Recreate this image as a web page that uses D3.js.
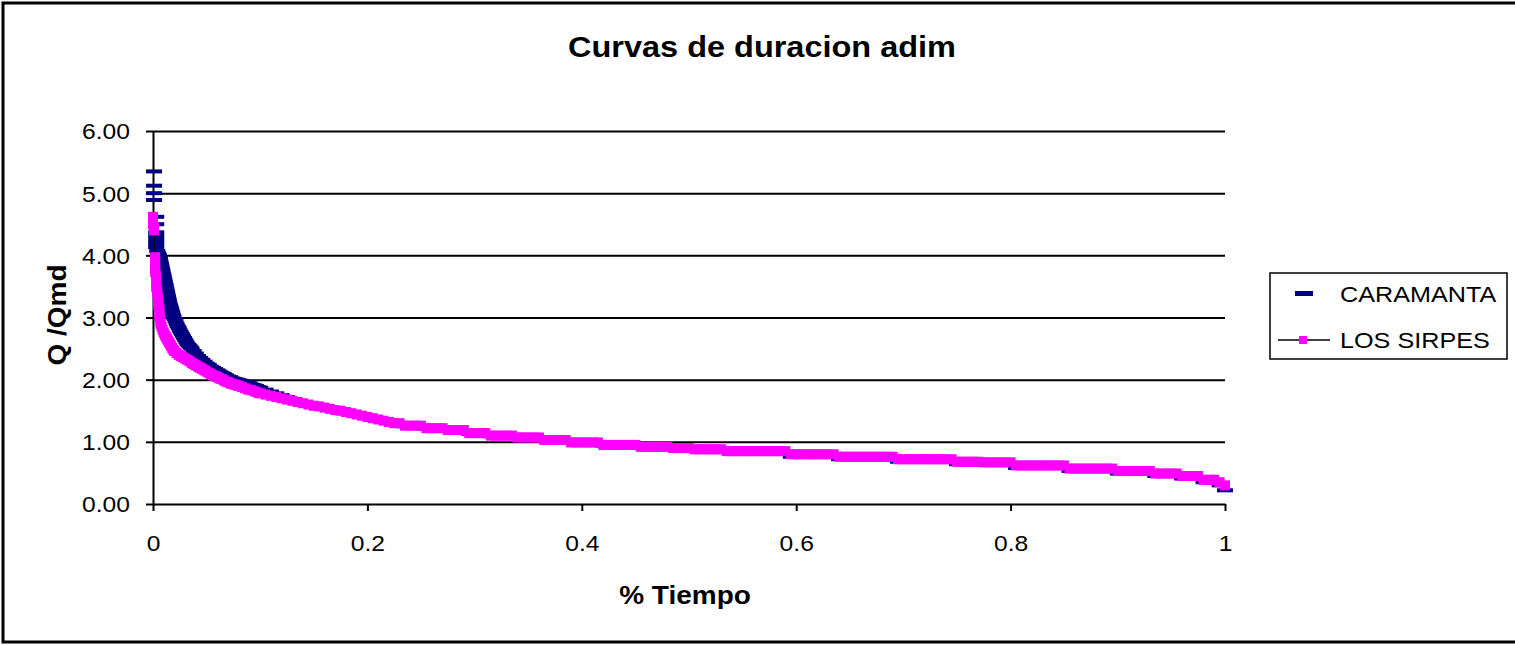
<!DOCTYPE html>
<html>
<head>
<meta charset="utf-8">
<script src="https://cdn.jsdelivr.net/npm/d3@7"></script>
<style>
  body { margin: 0; background: #fff; }
  svg { display: block; }
  text { font-family: "Liberation Sans", Arial, sans-serif; fill: #000; }
</style>
</head>
<body>
<svg id="chart" width="1515" height="645"></svg>
<script>
// textos
var titulo = "Curvas de duracion adim";
var tituloX = "% Tiempo";
var tituloY = "Q /Qmd";
var nombres = ["CARAMANTA", "LOS SIRPES"];
var ticksY = [0, 1, 2, 3, 4, 5, 6];
var ticksX = [0, 0.2, 0.4, 0.6, 0.8, 1];

// tramo inicial (curva empinada), pares [tiempo, Q/Qmd]
var caramantaInicio = [
  [0.001,5.35],[0.001,5.12],[0.001,5.00],[0.001,4.89],[0.003,4.62],[0.003,4.50],[0.003,4.37],
  [0.003,4.32],[0.003,4.27],[0.003,4.22],[0.003,4.17],[0.003,4.13],[0.004,4.07],[0.0045,4.04],
  [0.005,4.02],[0.0055,4.00],[0.006,3.97],[0.0065,3.94],[0.007,3.90],[0.0075,3.86],[0.008,3.82],
  [0.0085,3.78],[0.009,3.74],[0.0095,3.70],[0.010,3.66],[0.0105,3.62],[0.011,3.58],[0.0115,3.54],
  [0.012,3.50],[0.0125,3.46],[0.013,3.42],[0.0135,3.38],[0.014,3.34],[0.0145,3.30],[0.015,3.26],
  [0.0155,3.22],[0.016,3.19],[0.0165,3.16],[0.017,3.13],[0.0175,3.10],[0.018,3.07],[0.0185,3.04],
  [0.019,3.02],[0.020,2.98],[0.021,2.94],[0.022,2.90],[0.023,2.86],[0.024,2.83],[0.025,2.79],
  [0.026,2.76],[0.027,2.73],[0.028,2.70],[0.029,2.67],[0.030,2.64],[0.031,2.61],[0.032,2.58],
  [0.033,2.56],[0.034,2.54],[0.035,2.52],[0.036,2.50],[0.038,2.46],[0.040,2.42],[0.042,2.38],
  [0.044,2.35],[0.046,2.32],[0.048,2.29],[0.050,2.26],[0.052,2.24],[0.054,2.21],[0.056,2.19],
  [0.058,2.17],[0.060,2.15],[0.062,2.13],[0.064,2.11],[0.066,2.09],[0.068,2.07],[0.070,2.05],
  [0.072,2.04],[0.074,2.02],[0.076,2.01],[0.078,2.00],[0.080,1.99],[0.082,1.98],[0.084,1.97],
  [0.086,1.96],[0.088,1.95],[0.090,1.94],[0.092,1.92],[0.094,1.91],[0.096,1.90],[0.098,1.88]
];
var sirpesInicio = [
  [0,4.62],[0,4.56],[0,4.50],[0.001,4.45],[0.001,4.40],[0.002,3.97],[0.002,3.91],[0.002,3.85],
  [0.002,3.79],[0.002,3.73],[0.003,3.67],[0.003,3.61],[0.003,3.55],[0.003,3.49],[0.004,3.43],
  [0.004,3.37],[0.005,3.31],[0.005,3.25],[0.005,3.19],[0.006,3.13],[0.006,3.07],[0.006,3.01],
  [0.007,2.95],[0.007,2.90],[0.008,2.85],[0.009,2.80],[0.010,2.76],[0.011,2.72],[0.012,2.69],
  [0.013,2.66],[0.014,2.63],[0.015,2.60],[0.016,2.57],[0.017,2.54],[0.018,2.51],[0.019,2.48],
  [0.020,2.46],[0.022,2.43],[0.024,2.40],[0.026,2.38],[0.028,2.36],[0.030,2.34],[0.032,2.32],
  [0.034,2.30],[0.036,2.27],[0.038,2.25],[0.040,2.23],[0.042,2.21],[0.044,2.19],[0.046,2.17],
  [0.048,2.15],[0.050,2.13],[0.052,2.11],[0.054,2.09],[0.056,2.07],[0.058,2.06],[0.060,2.04],
  [0.062,2.02],[0.064,2.01],[0.066,1.99],[0.068,1.97],[0.070,1.96],[0.072,1.94],[0.074,1.93],
  [0.076,1.92],[0.078,1.91],[0.080,1.90],[0.083,1.88],[0.086,1.86],[0.089,1.84],[0.092,1.83],
  [0.095,1.81],[0.098,1.79]
];

// tramo 0.10 .. 1.00, cada 0.005
var tiempoCola = d3.range(181).map(function (i) { return +(0.1 + i * 0.005).toFixed(3); });
var caramantaCola = [
  1.87,1.84,1.81,1.78,1.75,1.72,1.69,1.66,1.63,1.60,
  1.58,1.56,1.54,1.52,1.50,1.49,1.47,1.45,1.43,1.41,
  1.39,1.37,1.35,1.33,1.31,1.29,1.29,1.25,1.25,1.25,
  1.25,1.21,1.21,1.21,1.21,1.18,1.18,1.18,1.18,1.13,
  1.13,1.13,1.13,1.09,1.09,1.09,1.09,1.09,1.06,1.06,
  1.06,1.06,1.06,1.02,1.02,1.02,1.02,1.02,0.98,0.98,
  0.98,0.98,0.98,0.98,0.94,0.94,0.94,0.94,0.94,0.94,
  0.94,0.91,0.91,0.91,0.91,0.91,0.91,0.89,0.89,0.89,
  0.89,0.87,0.87,0.87,0.87,0.87,0.87,0.84,0.84,0.84,
  0.82,0.82,0.82,0.82,0.81,0.81,0.81,0.81,0.81,0.76,
  0.76,0.76,0.76,0.76,0.76,0.76,0.76,0.76,0.72,0.72,
  0.72,0.72,0.72,0.72,0.72,0.72,0.72,0.72,0.72,0.68,
  0.68,0.68,0.68,0.68,0.68,0.68,0.68,0.68,0.68,0.68,
  0.64,0.64,0.64,0.64,0.64,0.63,0.63,0.63,0.63,0.63,
  0.63,0.58,0.58,0.58,0.58,0.58,0.58,0.58,0.58,0.58,
  0.58,0.53,0.53,0.53,0.53,0.53,0.53,0.53,0.53,0.53,
  0.49,0.49,0.49,0.49,0.49,0.49,0.49,0.45,0.45,0.45,
  0.45,0.45,0.41,0.41,0.41,0.41,0.35,0.35,0.34,0.30,
  0.22
];
var sirpesCola = [
  1.78,1.76,1.74,1.72,1.70,1.68,1.66,1.64,1.62,1.60,
  1.58,1.57,1.55,1.53,1.51,1.50,1.48,1.46,1.44,1.42,
  1.40,1.38,1.36,1.34,1.32,1.30,1.30,1.26,1.26,1.26,
  1.26,1.22,1.22,1.22,1.22,1.19,1.19,1.19,1.19,1.14,
  1.14,1.14,1.14,1.10,1.10,1.10,1.10,1.10,1.07,1.07,
  1.07,1.07,1.07,1.03,1.03,1.03,1.03,1.03,0.99,0.99,
  0.99,0.99,0.99,0.99,0.95,0.95,0.95,0.95,0.95,0.95,
  0.95,0.92,0.92,0.92,0.92,0.92,0.92,0.90,0.90,0.90,
  0.90,0.88,0.88,0.88,0.88,0.88,0.88,0.85,0.85,0.85,
  0.85,0.85,0.85,0.85,0.85,0.85,0.85,0.85,0.85,0.80,
  0.80,0.80,0.80,0.80,0.80,0.80,0.80,0.80,0.76,0.76,
  0.76,0.76,0.76,0.76,0.76,0.76,0.76,0.76,0.76,0.72,
  0.72,0.72,0.72,0.72,0.72,0.72,0.72,0.72,0.72,0.72,
  0.68,0.68,0.68,0.68,0.68,0.67,0.67,0.67,0.67,0.67,
  0.67,0.62,0.62,0.62,0.62,0.62,0.62,0.62,0.62,0.62,
  0.62,0.57,0.57,0.57,0.57,0.57,0.57,0.57,0.57,0.57,
  0.53,0.53,0.53,0.53,0.53,0.53,0.53,0.49,0.49,0.49,
  0.49,0.49,0.45,0.45,0.45,0.45,0.39,0.39,0.39,0.35,
  0.30
];

var caramanta = caramantaInicio.concat(tiempoCola.map(function (t, i) { return [t, caramantaCola[i]]; }));
var sirpes = sirpesInicio.concat(tiempoCola.map(function (t, i) { return [t, sirpesCola[i]]; }));

var estirar = 1.12;   // el texto del original sale ancho

var svg = d3.select('#chart');

var x = d3.scaleLinear().domain([0, 1]).range([153, 1225]);
var y = d3.scaleLinear().domain([0, 6]).range([504, 131]);

// marco exterior
svg.append('rect')
    .attr('x', 3).attr('y', 3)
    .attr('width', 1540).attr('height', 639)
    .attr('fill', 'none').attr('stroke', '#000').attr('stroke-width', 3);

// titulo
svg.append('text')
    .attr('transform', 'translate(762,57) scale(' + estirar + ',1)')
    .attr('text-anchor', 'middle')
    .style('font-size', '29px').style('font-weight', 'bold')
    .text(titulo);

// rejilla
svg.append('g')
    .attr('transform', 'translate(153,0)')
    .call(d3.axisLeft(y).tickValues(ticksY.slice(1)).tickSize(-1072).tickFormat(''))
    .call(function (g) { g.select('.domain').remove(); })
    .selectAll('line').attr('stroke', '#000').attr('stroke-width', 2);

// eje Y
var gy = svg.append('g')
    .attr('transform', 'translate(153,0)')
    .call(d3.axisLeft(y).tickValues(ticksY).tickSize(7).tickSizeOuter(0).tickFormat(d3.format('.2f')));
gy.select('.domain').attr('stroke', '#000').attr('stroke-width', 2);
gy.selectAll('.tick line').attr('stroke', '#000').attr('stroke-width', 2);
gy.selectAll('.tick text')
    .attr('x', null).attr('dy', '0.36em')
    .attr('transform', 'translate(-23,0) scale(' + estirar + ',1)')
    .style('font-size', '22px').attr('font-family', null);

// eje X
var gx = svg.append('g')
    .attr('transform', 'translate(0,504)')
    .call(d3.axisBottom(x).tickValues(ticksX).tickSize(7).tickSizeOuter(0).tickFormat(d3.format('')));
gx.select('.domain').attr('stroke', '#000').attr('stroke-width', 2);
gx.selectAll('.tick line').attr('stroke', '#000').attr('stroke-width', 2);
gx.selectAll('.tick text')
    .attr('y', null).attr('dy', '0.36em')
    .attr('transform', 'translate(0,39) scale(' + estirar + ',1)')
    .style('font-size', '22px').attr('font-family', null);

// titulos de ejes
svg.append('text')
    .attr('transform', 'translate(685,604) scale(' + estirar + ',1)')
    .attr('text-anchor', 'middle')
    .style('font-size', '25px').style('font-weight', 'bold')
    .text(tituloX);
svg.append('text')
    .attr('transform', 'translate(66,315) rotate(-90) scale(' + estirar + ',1)')
    .attr('text-anchor', 'middle')
    .style('font-size', '25px').style('font-weight', 'bold')
    .text(tituloY);

// CARAMANTA: solo guiones
svg.append('g').selectAll('rect')
    .data(caramanta)
    .join('rect')
    .attr('x', function (d) { return x(d[0]) - 8; })
    .attr('y', function (d) { return y(d[1]) - 2; })
    .attr('width', 16).attr('height', 4)
    .attr('fill', '#000080');

// LOS SIRPES: linea negra + cuadrados
var linea = d3.line()
    .x(function (d) { return x(d[0]); })
    .y(function (d) { return y(d[1]); });
svg.append('path')
    .datum(sirpes)
    .attr('d', linea)
    .attr('fill', 'none').attr('stroke', '#000').attr('stroke-width', 1);
svg.append('g').selectAll('rect')
    .data(sirpes)
    .join('rect')
    .attr('x', function (d) { return x(d[0]) - 5; })
    .attr('y', function (d) { return y(d[1]) - 5; })
    .attr('width', 10).attr('height', 10)
    .attr('fill', '#ff00ff');

// leyenda
var ley = svg.append('g').attr('transform', 'translate(1270,273)');
ley.append('rect')
    .attr('width', 237).attr('height', 86)
    .attr('fill', '#fff').attr('stroke', '#000').attr('stroke-width', 1.5);
ley.append('rect')
    .attr('x', 25).attr('y', 18).attr('width', 18).attr('height', 5)
    .attr('fill', '#000080');
ley.append('line')
    .attr('x1', 8).attr('x2', 60).attr('y1', 67).attr('y2', 67)
    .attr('stroke', '#000').attr('stroke-width', 1.5);
ley.append('rect')
    .attr('x', 29).attr('y', 63).attr('width', 8).attr('height', 8)
    .attr('fill', '#ff00ff');
ley.selectAll('text.nombre')
    .data(nombres)
    .join('text')
    .attr('class', 'nombre')
    .attr('dy', '0.36em')
    .attr('transform', function (d, i) { return 'translate(70,' + (i === 0 ? 21 : 67) + ') scale(' + estirar + ',1)'; })
    .style('font-size', '22.5px')
    .text(function (d) { return d; });
</script>
</body>
</html>
